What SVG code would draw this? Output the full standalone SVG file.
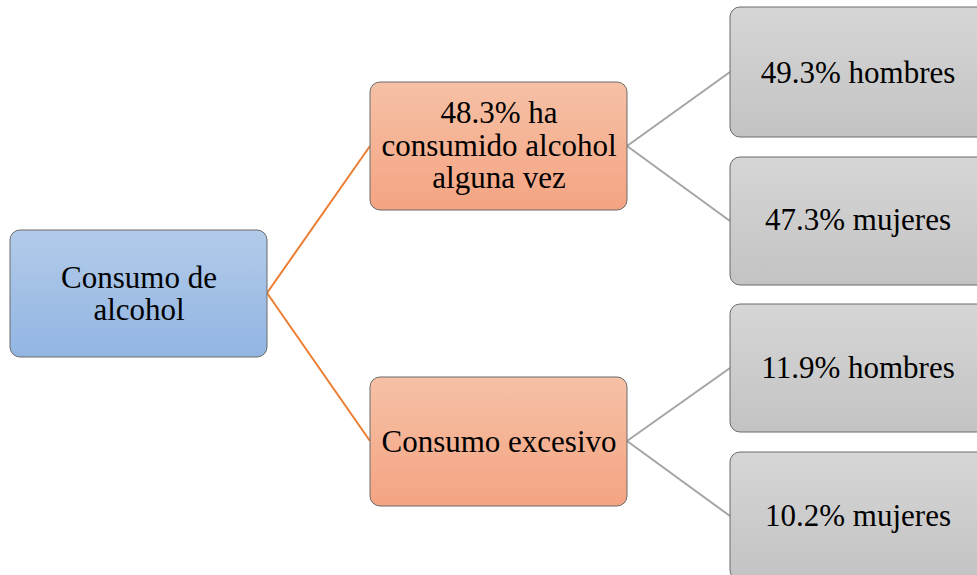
<svg xmlns="http://www.w3.org/2000/svg" width="977" height="575" viewBox="0 0 977 575">
<defs>
<linearGradient id="gBlue" x1="0" y1="0" x2="0" y2="1"><stop offset="0" stop-color="#b2cbea"/><stop offset="1" stop-color="#92b5e2"/></linearGradient>
<linearGradient id="gOrange" x1="0" y1="0" x2="0" y2="1"><stop offset="0" stop-color="#f6c1a6"/><stop offset="1" stop-color="#f4a482"/></linearGradient>
<linearGradient id="gGray" x1="0" y1="0" x2="0" y2="1"><stop offset="0" stop-color="#d6d6d6"/><stop offset="1" stop-color="#c3c3c3"/></linearGradient>
</defs>
<style>
.box{stroke:#6b6b6b;stroke-width:1}
.t{font-family:"Times New Roman",Times,Tinos,"Liberation Serif","DejaVu Serif","Noto Serif",serif;font-size:31px;fill:#000;text-anchor:middle}
.co{stroke:#ed7d31;stroke-width:2;fill:none}
.cg{stroke:#a5a5a5;stroke-width:2;fill:none}
</style>
<rect width="977" height="575" fill="#fff"/>
<g id="connectors">
<path class="co" d="M267 293 L370 146"/>
<path class="co" d="M267 293 L370 441"/>
<path class="cg" d="M627 146 L730 72"/>
<path class="cg" d="M627 146 L730 221"/>
<path class="cg" d="M627 441 L730 368"/>
<path class="cg" d="M627 441 L730 516"/>
</g>
<g id="root">
<rect class="box" x="10" y="230" width="257" height="127" rx="10" fill="url(#gBlue)"/>
<text class="t" x="139" y="288">Consumo de</text>
<text class="t" x="139" y="320">alcohol</text>
</g>
<g id="mid1">
<rect class="box" x="370" y="82" width="257" height="128" rx="10" fill="url(#gOrange)"/>
<text class="t" x="499" y="123">48.3% ha</text>
<text class="t" x="499" y="156">consumido alcohol</text>
<text class="t" x="499" y="188">alguna vez</text>
</g>
<g id="mid2">
<rect class="box" x="370" y="377" width="257" height="129" rx="10" fill="url(#gOrange)"/>
<text class="t" x="499" y="452">Consumo excesivo</text>
</g>
<g id="leaf1">
<rect class="box" x="730" y="7" width="257" height="130" rx="10" fill="url(#gGray)"/>
<text class="t" x="858" y="83">49.3% hombres</text>
</g>
<g id="leaf2">
<rect class="box" x="730" y="157" width="257" height="128" rx="10" fill="url(#gGray)"/>
<text class="t" x="858" y="230">47.3% mujeres</text>
</g>
<g id="leaf3">
<rect class="box" x="730" y="304" width="257" height="128" rx="10" fill="url(#gGray)"/>
<text class="t" x="858" y="378">11.9% hombres</text>
</g>
<g id="leaf4">
<rect class="box" x="730" y="452" width="257" height="128" rx="10" fill="url(#gGray)"/>
<text class="t" x="858" y="526">10.2% mujeres</text>
</g>
</svg>
